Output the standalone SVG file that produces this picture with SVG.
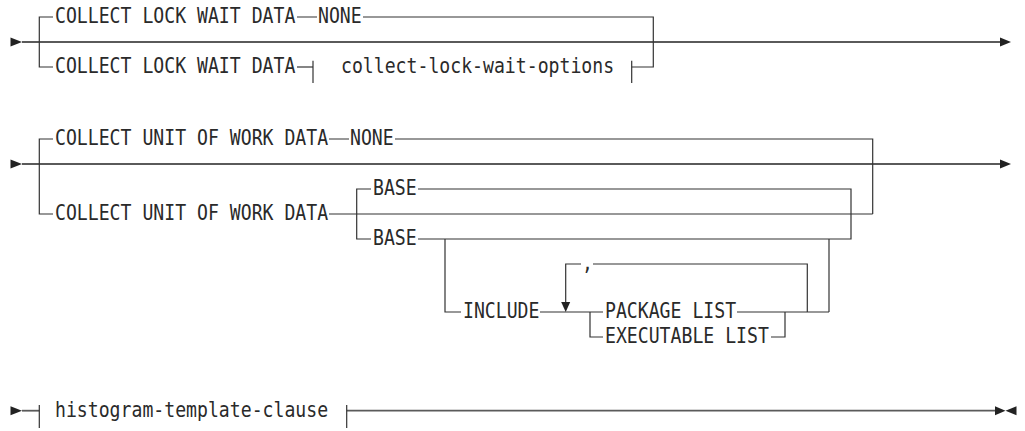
<svg xmlns="http://www.w3.org/2000/svg" width="1025" height="431" viewBox="0 0 1025 431">
<style>
  .t { font-family: "DejaVu Sans Mono", "Liberation Mono", monospace; font-size: 18.16px; fill: #2a2a2a; }
  .main { stroke: #5a5a5a; stroke-width: 1.8; fill: none; }
  .ln { stroke: #333; stroke-width: 1.2; fill: none; }
  .ah { fill: #222; stroke: none; }
</style>
<rect width="1025" height="431" fill="#ffffff"/>
<g id="connectors">
  <!-- Row 1 -->
  <polygon class="ah" points="10.5,37.5 22,42 10.5,46.5"/>
  <line class="main" x1="22" y1="42" x2="1000" y2="42"/>
  <polygon class="ah" points="1000,37.5 1011,42 1000,46.5"/>
  <path class="ln" d="M39.3,42 V17 H53 M39.3,42 V67 H53"/>
  <path class="ln" d="M297,17 H317 M363,17 H653.3 V67 H631.7"/>
  <path class="ln" d="M297,67 H313"/>
  <!-- Row 2 -->
  <polygon class="ah" points="10.5,159.5 22,164 10.5,168.5"/>
  <line class="main" x1="22" y1="164" x2="1000" y2="164"/>
  <polygon class="ah" points="1000,159.5 1011,164 1000,168.5"/>
  <path class="ln" d="M39.3,164 V139 H53 M39.3,164 V214 H53"/>
  <path class="ln" d="M329,139 H349 M395,139 H872.7 V214"/>
  <path class="ln" d="M329,214 H872.7"/>
  <path class="ln" d="M356.7,214 V189 H371 M356.7,214 V239 H371"/>
  <path class="ln" d="M418,189 H851 V239 H418"/>
  <path class="ln" d="M445,239 V312 H461"/>
  <path class="ln" d="M829,239 V312"/>
  <path class="ln" d="M540,312 H603"/>
  <path class="ln" d="M737,312 H829"/>
  <path class="ln" d="M590,312 V337 H603 M771,337 H785 V312"/>
  <path class="ln" d="M565.7,303 V264 H581 M593,264 H807.3 V312"/>
  <polygon class="ah" points="561.2,302 570.2,302 565.7,312"/>
  <!-- Row 3 -->
  <polygon class="ah" points="10.5,406.2 22,410.7 10.5,415.2"/>
  <line class="main" x1="22" y1="410.7" x2="39.3" y2="410.7"/>
  <line class="main" x1="346.7" y1="410.7" x2="995" y2="410.7"/>
  <polygon class="ah" points="995,406.2 1005.5,410.7 995,415.2"/>
  <polygon class="ah" points="1016.5,406.2 1005.5,410.7 1016.5,415.2"/>
</g>
<g id="n-lockwait-none">
  <text class="t" transform="translate(55,23) scale(1,1.13)">COLLECT LOCK WAIT DATA</text>
  <text class="t" transform="translate(318,23) scale(1,1.13)">NONE</text>
</g>
<g id="n-lockwait-opts">
  <text class="t" transform="translate(55,73) scale(1,1.13)">COLLECT LOCK WAIT DATA</text>
  <line class="ln" x1="313" y1="60.7" x2="313" y2="83"/>
  <text class="t" transform="translate(341,73) scale(1,1.13)">collect-lock-wait-options</text>
  <line class="ln" x1="631.7" y1="60.7" x2="631.7" y2="83"/>
</g>
<g id="n-uow-none">
  <text class="t" transform="translate(55,145) scale(1,1.13)">COLLECT UNIT OF WORK DATA</text>
  <text class="t" transform="translate(350,145) scale(1,1.13)">NONE</text>
</g>
<g id="n-uow"><text class="t" transform="translate(55,220) scale(1,1.13)">COLLECT UNIT OF WORK DATA</text></g>
<g id="n-base1"><text class="t" transform="translate(373,195) scale(1,1.13)">BASE</text></g>
<g id="n-base2"><text class="t" transform="translate(373,245) scale(1,1.13)">BASE</text></g>
<g id="n-include"><text class="t" transform="translate(463,318) scale(1,1.13)">INCLUDE</text></g>
<g id="n-comma"><text class="t" transform="translate(582,270) scale(1,1.13)">,</text></g>
<g id="n-package"><text class="t" transform="translate(605,318) scale(1,1.13)">PACKAGE LIST</text></g>
<g id="n-executable"><text class="t" transform="translate(605,343) scale(1,1.13)">EXECUTABLE LIST</text></g>
<g id="n-histogram">
  <line class="ln" x1="39.3" y1="405" x2="39.3" y2="428"/>
  <text class="t" transform="translate(55,417) scale(1,1.13)">histogram-template-clause</text>
  <line class="ln" x1="346.7" y1="405" x2="346.7" y2="428"/>
</g>
</svg>
